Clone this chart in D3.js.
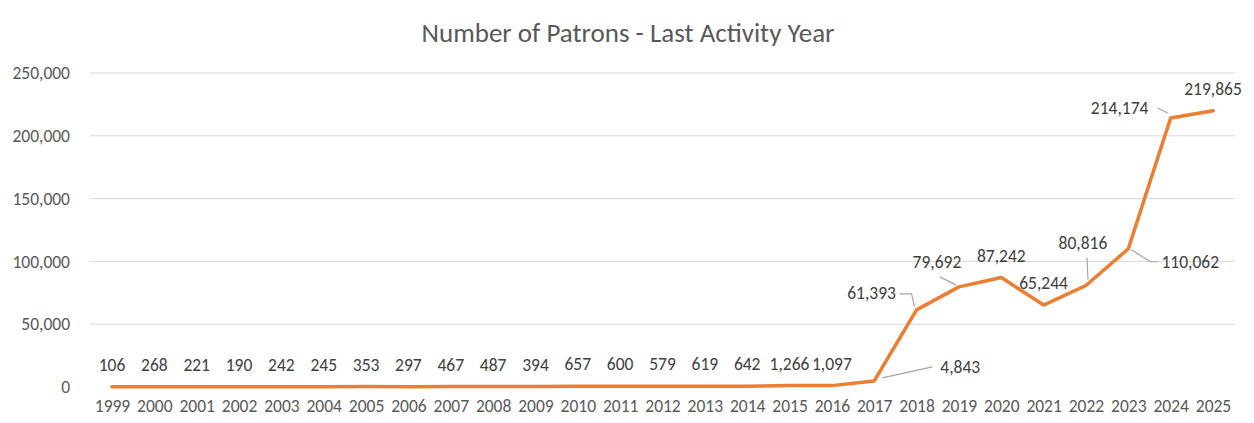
<!DOCTYPE html>
<html>
<head>
<meta charset="utf-8">
<script src="https://cdn.jsdelivr.net/npm/d3@7"></script>
<style>
  html, body { margin: 0; padding: 0; background: #ffffff; }
  svg { display: block; font-family: Carlito, Calibri, Lato, sans-serif; }
</style>
</head>
<body>
<svg id="chart" width="1254" height="423"></svg>
<script>
// ---- data ----
const years = ["1999","2000","2001","2002","2003","2004","2005","2006","2007","2008","2009","2010","2011","2012","2013","2014","2015","2016","2017","2018","2019","2020","2021","2022","2023","2024","2025"];
const patrons = [106,268,221,190,242,245,353,297,467,487,394,657,600,579,619,642,1266,1097,4843,61393,79692,87242,65244,80816,110062,214174,219865];
const yTicks = [0,50000,100000,150000,200000,250000];
const chartTitle = "Number of Patrons - Last Activity Year";

// ---- manual label placement (Excel-style moved labels), px offsets from point ----
const labelMoves = {
  "2017": {dx: 86, dy: -14, leader: [[8,-3],[58,-14]]},
  "2018": {dx: -45, dy: -17, leader: [[-17,-16],[-5,-16],[-2,-3]]},
  "2019": {dx: -22, dy: -25, leader: [[-19,-10],[-3,-2]]},
  "2022": {dx: -3, dy: -43, leader: [[1,-28],[2,-6]]},
  "2023": {dx: 62, dy: 13, leader: [[3,1],[22,13],[29,13]]},
  "2024": {dx: -51, dy: -10, leader: [[-13,-10],[-3,-5]]}
};

const svg = d3.select("#chart");

const x = d3.scalePoint().domain(years).range([112, 1213]);
const y = d3.scaleLinear().domain([0, 250000]).range([387, 73]);

// title
svg.append("text")
  .attr("x", 628).attr("y", 42)
  .attr("text-anchor", "middle")
  .attr("fill", "#595959")
  .style("font-size", "27px")
  .text(chartTitle);

// gridlines
svg.append("g").selectAll("line")
  .data(yTicks.filter(d => d > 0))
  .join("line")
  .attr("x1", 90).attr("x2", 1235)
  .attr("y1", d => y(d)).attr("y2", d => y(d))
  .attr("stroke", "#d9d9d9").attr("stroke-width", 1);

// y axis labels
const yAxis = d3.axisLeft(y).tickValues(yTicks).tickSize(0).tickPadding(0)
  .tickFormat(d3.format(","));
const yg = svg.append("g").attr("transform", "translate(70,0)").call(yAxis);
yg.select(".domain").remove();
yg.selectAll("text").attr("fill", "#595959").style("font-size", "17.5px")
  .style("font-family", "Carlito, Calibri, Lato, sans-serif");

// x axis labels
const xAxis = d3.axisBottom(x).tickSize(0).tickPadding(0);
const xg = svg.append("g").attr("transform", "translate(0,400)").call(xAxis);
xg.select(".domain").remove();
xg.selectAll("text").attr("fill", "#595959").style("font-size", "17.5px")
  .style("font-family", "Carlito, Calibri, Lato, sans-serif");

// line
const data = years.map((yr, i) => ({year: yr, value: patrons[i]}));
const line = d3.line().x(d => x(d.year)).y(d => y(d.value));
svg.append("path")
  .datum(data)
  .attr("d", line)
  .attr("fill", "none")
  .attr("stroke", "#ED7D31")
  .attr("stroke-width", 3.5)
  .attr("stroke-linejoin", "round")
  .attr("stroke-linecap", "round");

// leader lines
const lg = svg.append("g");
data.forEach(d => {
  const mv = labelMoves[d.year];
  if (mv && mv.leader) {
    const px = x(d.year), py = y(d.value);
    lg.append("polyline")
      .attr("points", mv.leader.map(p => (px + p[0]) + "," + (py + p[1])).join(" "))
      .attr("fill", "none")
      .attr("stroke", "#a6a6a6")
      .attr("stroke-width", 1.2);
  }
});

// data labels
const fmt = d3.format(",");
svg.append("g").selectAll("text")
  .data(data)
  .join("text")
  .attr("x", d => x(d.year) + (labelMoves[d.year] ? labelMoves[d.year].dx : 0))
  .attr("y", d => y(d.value) + (labelMoves[d.year] ? labelMoves[d.year].dy : -22))
  .attr("dy", "0.35em")
  .attr("text-anchor", "middle")
  .attr("fill", "#404040")
  .style("font-size", "17.5px")
  .text(d => fmt(d.value));
</script>
</body>
</html>
